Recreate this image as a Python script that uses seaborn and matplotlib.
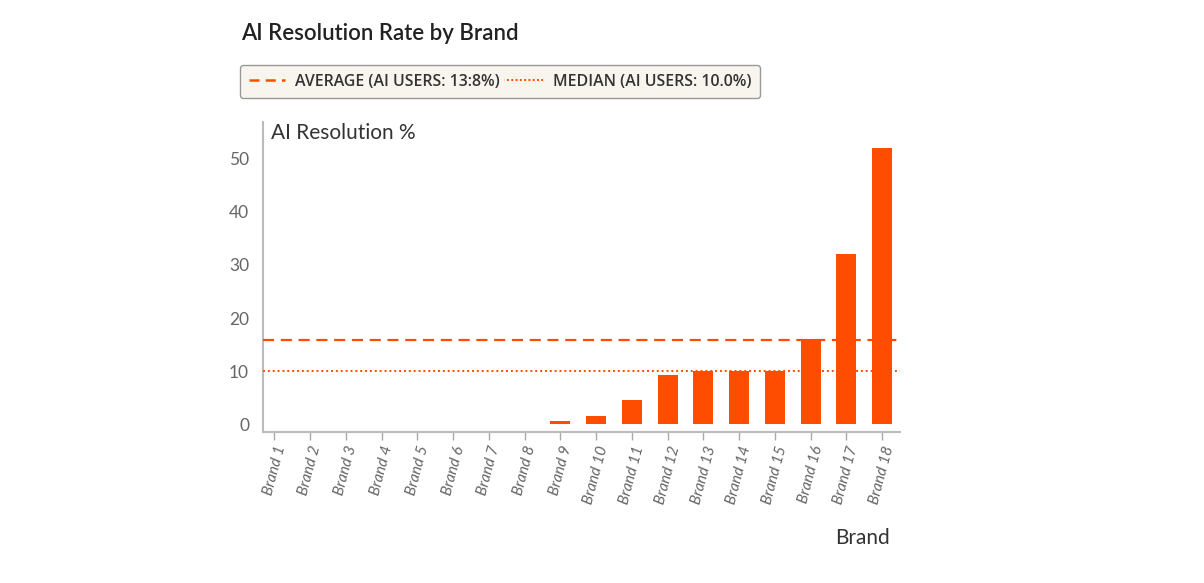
import matplotlib
matplotlib.use("Agg")
import matplotlib.pyplot as plt
from matplotlib.lines import Line2D
import seaborn as sns
import pandas as pd

brands = [f"Brand {i}" for i in range(1, 19)]
ai_resolution = [0, 0, 0, 0, 0, 0, 0, 0, 0.5, 1.5, 4.5, 9.2, 10.0, 10.0, 10.0, 16.0, 32.0, 52.0]
average_line = 15.8
median_line = 10.0
legend_labels = ["AVERAGE (AI USERS: 13:8%)", "MEDIAN (AI USERS: 10.0%)"]
y_ticks = [0, 10, 20, 30, 40, 50]

df = pd.DataFrame({"Brand": brands, "AI Resolution %": ai_resolution})

sns.set_theme(style="white")
plt.rcParams['font.family'] = ['Lato', 'DejaVu Sans']

BAR = "#FF4D00"
fig = plt.figure(figsize=(12.04, 5.83), dpi=100)
ax = fig.add_axes([0.2184, 0.259, 0.5291, 0.532])

sns.barplot(data=df, x="Brand", y="AI Resolution %", color=BAR, width=0.56,
            saturation=1, ax=ax, edgecolor="none")

ax.axhline(average_line, color=BAR, lw=1.6, ls=(0, (5, 3)), zorder=3)
ax.axhline(median_line, color=BAR, lw=1.4, ls=(0, (1, 1.5)), zorder=3)

ax.set_xlim(-0.32, 17.5)
ax.set_ylim(-1.5, 57)
ax.set_yticks(y_ticks)
ax.set_yticklabels([str(t) for t in y_ticks], fontsize=12.5, color="#666666")
ax.tick_params(axis="y", length=0, pad=10)
ax.tick_params(axis="x", length=6, width=1, color="#aaaaaa", pad=3, bottom=True)
for lbl in ax.get_xticklabels():
    lbl.set_rotation(75)
    lbl.set_ha("center")
    lbl.set_va("top")
    lbl.set_fontsize(11)
    lbl.set_color("#666666")
    lbl.set_style("italic")

for s in ["top", "right"]:
    ax.spines[s].set_visible(False)
for s in ["left", "bottom"]:
    ax.spines[s].set_color("#bbbbbb")
    ax.spines[s].set_linewidth(1.5)

ax.set_ylabel("")
ax.set_xlabel("")
ax.text(0.012, 0.995, "AI Resolution %", transform=ax.transAxes, fontsize=15,
        color="#333333", ha="left", va="top")
fig.text(890 / 1204, 1 - 538 / 583, "Brand", fontsize=15, color="#333333",
         ha="right", va="center")

fig.text(241 / 1204, 1 - 33 / 583, "AI Resolution Rate by Brand", fontsize=16,
         fontweight="semibold", color="#222222", ha="left", va="center")

handles = [Line2D([0], [0], color=BAR, lw=1.8, ls=(0, (4, 2.5))),
           Line2D([0], [0], color=BAR, lw=1.4, ls=(0, (1, 1.2)))]
leg = fig.legend(handles, legend_labels, loc="upper left",
                 bbox_to_anchor=(240 / 1204, 1 - 65 / 583), borderaxespad=0,
                 ncol=2, frameon=True, fancybox=True,
                 prop={"family": ["Open Sans", "DejaVu Sans"], "size": 11.4,
                       "weight": "semibold"},
                 handlelength=2.3, handletextpad=0.6, columnspacing=0.5,
                 borderpad=0.55)
frame = leg.get_frame()
frame.set_facecolor("#F8F5EE")
frame.set_edgecolor("#999999")
frame.set_linewidth(1)
frame.set_alpha(1)
for t in leg.get_texts():
    t.set_color("#333333")

fig.savefig("out.png", dpi=100)
